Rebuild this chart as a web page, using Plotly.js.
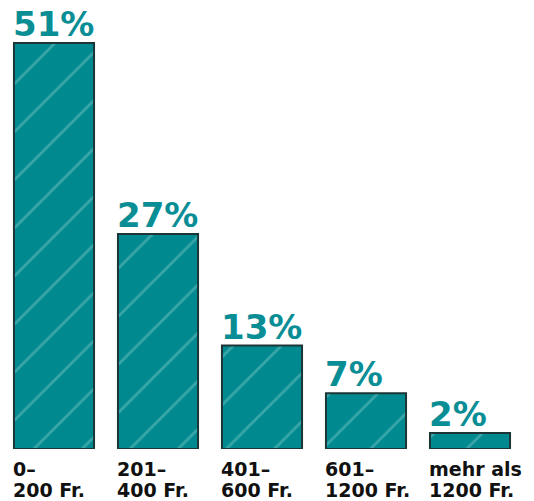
<!DOCTYPE html>
<html>
<head>
<meta charset="utf-8">
<script src="https://cdn.plot.ly/plotly-3.0.1.min.js"></script>
<style>html,body{margin:0;padding:0;background:#fff;}#chart{width:534px;height:501px;}</style>
</head>
<body>
<div id="chart"></div>
<script>
const categoriesLine1 = ["0–", "201–", "401–", "601–", "mehr als"];
const categoriesLine2 = ["200 Fr.", "400 Fr.", "600 Fr.", "1200 Fr.", "1200 Fr."];
const values = [51, 27, 13, 7, 2];
const valueLabels = ["51%", "27%", "13%", "7%", "2%"];

const bargap = 0.23;
const half = (1 - bargap) / 2;
const xs = values.map((v, i) => i);
const labelFont = {family: 'DejaVu Sans, sans-serif', size: 19, color: '#111', weight: 700};

const annotations = [];
values.forEach((v, i) => {
  annotations.push({
    x: i - half, y: v, xref: 'x', yref: 'y', xanchor: 'left', yanchor: 'bottom',
    text: valueLabels[i], showarrow: false, yshift: -3, xshift: -3,
    font: {family: 'DejaVu Sans, sans-serif', size: 34, color: '#0a8e95', weight: 700}
  });
  annotations.push({
    x: i - half, y: 0, xref: 'x', yref: 'paper', xanchor: 'left', yanchor: 'top', align: 'left',
    text: categoriesLine1[i], showarrow: false, yshift: -7, xshift: -3, font: labelFont
  });
  annotations.push({
    x: i - half, y: 0, xref: 'x', yref: 'paper', xanchor: 'left', yanchor: 'top', align: 'left',
    text: categoriesLine2[i], showarrow: false, yshift: -28, xshift: -3, font: labelFont
  });
});

Plotly.newPlot('chart', [{
  type: 'bar', x: xs, y: values,
  marker: {
    color: '#008a8f',
    line: {color: '#1d3536', width: 2},
    pattern: {shape: '/', fgcolor: 'rgba(215,240,240,0.55)', fillmode: 'overlay', size: 34, solidity: 0.08}
  },
  hoverinfo: 'none'
}], {
  width: 534, height: 501,
  margin: {l: 2, r: 12, t: 0, b: 52},
  bargap: bargap,
  paper_bgcolor: '#fff', plot_bgcolor: '#fff',
  showlegend: false,
  xaxis: {range: [-0.5, 4.5], showticklabels: false, showgrid: false, zeroline: false, showline: false, ticks: ''},
  yaxis: {range: [0, 56.4], visible: false, showgrid: false, zeroline: false},
  annotations: annotations
}, {displayModeBar: false, staticPlot: true});
</script>
</body>
</html>
